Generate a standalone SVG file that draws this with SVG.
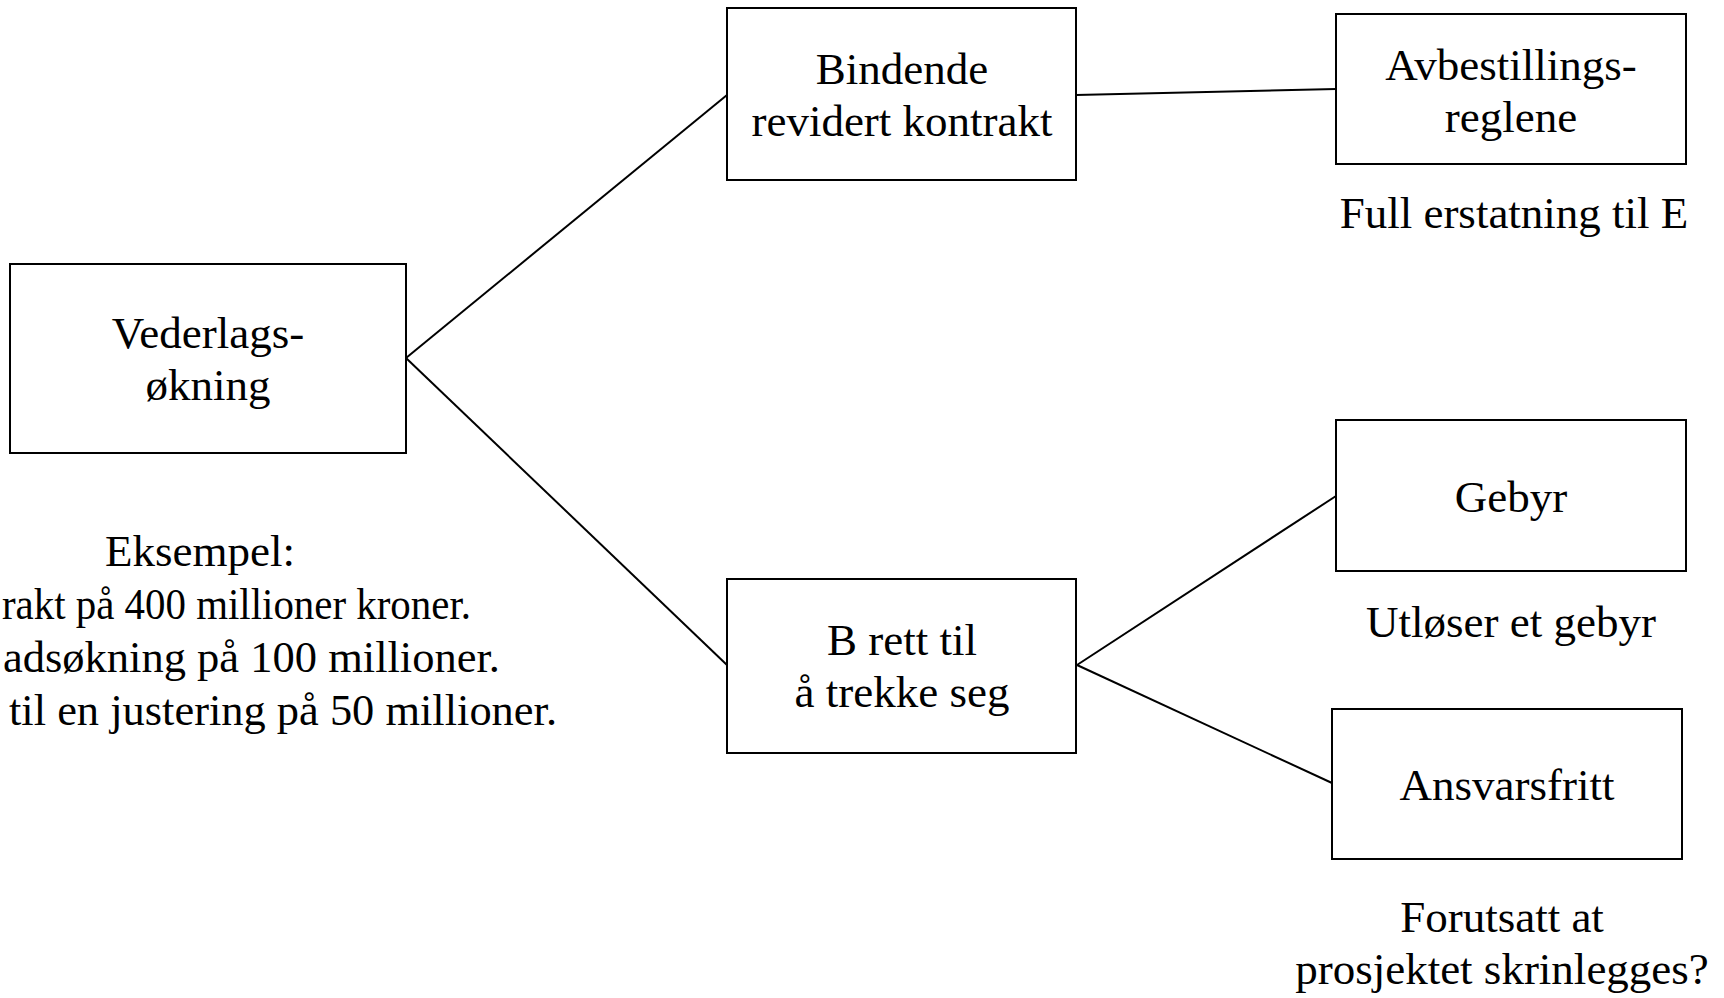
<svg xmlns="http://www.w3.org/2000/svg" width="1724" height="998" viewBox="0 0 1724 998">
<style>
.box{fill:#fff;stroke:#000;stroke-width:2}
.t{font-family:"Liberation Serif","Times New Roman",serif;font-size:45px;fill:#000;text-anchor:middle}
.s{text-anchor:start}
.c{stroke:#000;stroke-width:2;fill:none}
</style>
<rect width="1724" height="998" fill="#fff"/>
<g id="connectors">
<line class="c" x1="406" y1="358" x2="727" y2="95"/>
<line class="c" x1="406" y1="358" x2="727" y2="665"/>
<line class="c" x1="1076" y1="95" x2="1336" y2="89"/>
<line class="c" x1="1077" y1="665" x2="1336" y2="496"/>
<line class="c" x1="1077" y1="665" x2="1332" y2="783"/>
</g>
<g id="vederlag">
<rect class="box" x="10" y="264" width="396" height="189"/>
<text class="t" x="208" y="348">Vederlags-</text>
<text class="t" x="208" y="400">økning</text>
</g>
<g id="eksempel">
<text class="t" x="200" y="566">Eksempel:</text>
<text class="t s" x="2" y="619" textLength="469" lengthAdjust="spacingAndGlyphs">rakt på 400 millioner kroner.</text>
<text class="t s" x="3" y="672" textLength="497" lengthAdjust="spacingAndGlyphs">adsøkning på 100 millioner.</text>
<text class="t s" x="9" y="725" textLength="548" lengthAdjust="spacingAndGlyphs">til en justering på 50 millioner.</text>
</g>
<g id="bindende">
<rect class="box" x="727" y="8" width="349" height="172"/>
<text class="t" x="902" y="84">Bindende</text>
<text class="t" x="902" y="136">revidert kontrakt</text>
</g>
<g id="avbestilling">
<rect class="box" x="1336" y="14" width="350" height="150"/>
<text class="t" x="1511" y="80">Avbestillings-</text>
<text class="t" x="1511" y="132">reglene</text>
<text class="t" x="1514" y="228">Full erstatning til E</text>
</g>
<g id="brett">
<rect class="box" x="727" y="579" width="349" height="174"/>
<text class="t" x="902" y="655">B rett til</text>
<text class="t" x="902" y="707">å trekke seg</text>
</g>
<g id="gebyr">
<rect class="box" x="1336" y="420" width="350" height="151"/>
<text class="t" x="1511" y="512">Gebyr</text>
<text class="t" x="1511" y="637">Utløser et gebyr</text>
</g>
<g id="ansvarsfritt">
<rect class="box" x="1332" y="709" width="350" height="150"/>
<text class="t" x="1507" y="800">Ansvarsfritt</text>
<text class="t" x="1502" y="932">Forutsatt at</text>
<text class="t" x="1502" y="984">prosjektet skrinlegges?</text>
</g>
</svg>
